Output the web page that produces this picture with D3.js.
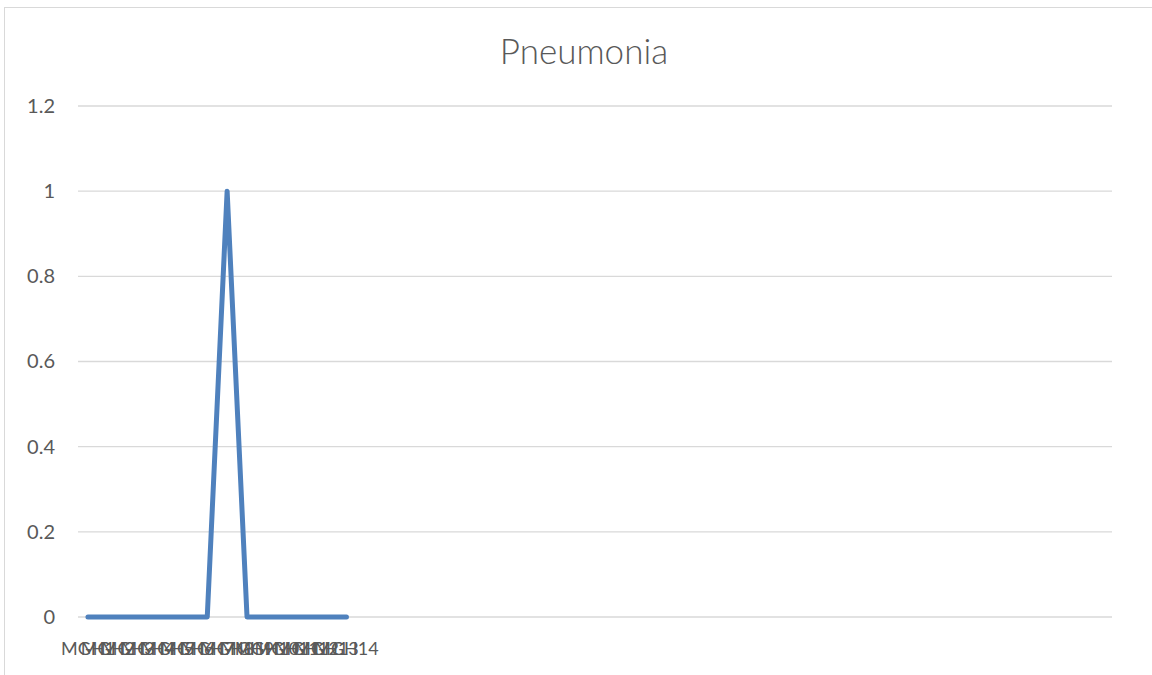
<!DOCTYPE html>
<html>
    <head>
        <meta charset="utf-8">
        <title>Pneumonia</title>
        <script src="https://d3js.org/d3.v7.min.js"></script>
        <style>
            body { margin: 0; background: #fff; }
            svg { display: block; font-family: Lato, "Open Sans", sans-serif; }
            .grid line { stroke: #d9d9d9; stroke-width: 1.3px; }
            .tick text { fill: #595959; }
        </style>
    </head>
    <body>
        <svg width="1152" height="675"></svg>
        <script>
            // chart data
            var title = "Pneumonia";
            var categories = ["MGH1","MGH2","MGH3","MGH4","MGH5","MGH6","MGH7",
                              "MGH8","MGH9","MGH10","MGH11","MGH12","MGH13","MGH14"];
            var values = [0,0,0,0,0,0,0,1,0,0,0,0,0,0];
            var slotCount = 52; // rows on the axis, the rest are empty
            var yTicks = [0,0.2,0.4,0.6,0.8,1,1.2];

            var svg = d3.select("svg");
            var plotLeft = 78, plotRight = 1112, plotTop = 106, plotBottom = 617;

            // outer frame
            svg.append("rect")
                .attr("x",4.5).attr("y",7.5)
                .attr("width",1170).attr("height",700)
                .attr("fill","none")
                .attr("stroke","#d9d9d9")
                .attr("stroke-width",1);

            svg.append("text")
                .attr("x",584).attr("y",64)
                .attr("text-anchor","middle")
                .attr("font-size",35)
                .attr("font-weight",300)
                .attr("fill","#595959")
                .text(title);

            var x = d3.scaleBand()
                .domain(d3.range(slotCount))
                .range([plotLeft,plotRight]);
            var y = d3.scaleLinear()
                .domain([0,1.2])
                .range([plotBottom,plotTop]);

            // gridlines
            svg.append("g")
                .attr("class","grid")
                .selectAll("line")
                .data(yTicks)
                .enter().append("line")
                .attr("x1",plotLeft).attr("x2",plotRight)
                .attr("y1",function(d){return y(d)})
                .attr("y2",function(d){return y(d)});

            // y axis labels
            var yAxis = svg.append("g")
                .attr("transform","translate(" + (plotLeft-8) + ",0)")
                .call(d3.axisLeft(y).tickValues(yTicks).tickSize(0).tickPadding(15)
                    .tickFormat(function(d){return String(+d.toFixed(1))}));
            yAxis.select(".domain").remove();
            yAxis.selectAll("text").attr("font-size",20).attr("font-family","Lato, sans-serif");

            // x axis labels (only the filled rows have a name)
            var xAxis = svg.append("g")
                .attr("transform","translate(0," + plotBottom + ")")
                .call(d3.axisBottom(x).tickSize(0).tickPadding(25)
                    .tickFormat(function(i){return categories[i] || ""}));
            xAxis.select(".domain").remove();
            xAxis.selectAll("text").attr("font-size",18).attr("font-family","Lato, sans-serif");

            var line = d3.line()
                .x(function(d,i){return x(i) + x.bandwidth()/2})
                .y(function(d){return y(d)});

            svg.append("path")
                .datum(values)
                .attr("d",line)
                .attr("fill","none")
                .attr("stroke","#4f81bd")
                .attr("stroke-width",5)
                .attr("stroke-linejoin","round")
                .attr("stroke-linecap","round");
        </script>
    </body>
</html>
